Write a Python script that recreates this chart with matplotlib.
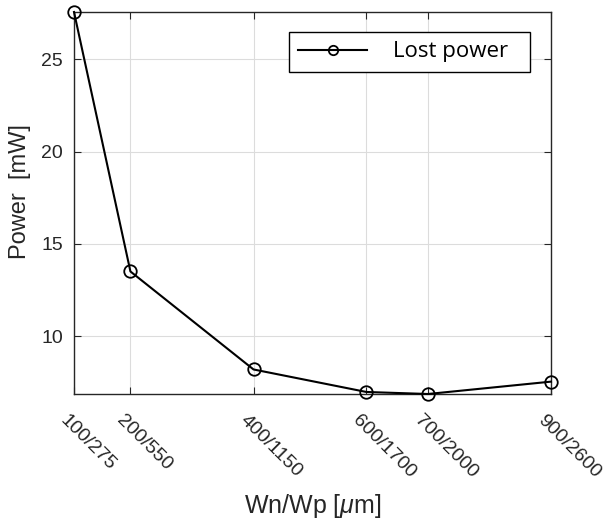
import numpy as np
import matplotlib
matplotlib.use("Agg")
import matplotlib.pyplot as plt
import matplotlib.transforms as mtransforms

plt.rcParams["font.family"] = ["Liberation Sans", "DejaVu Sans"]
plt.rcParams["mathtext.fontset"] = "custom"
plt.rcParams["mathtext.rm"] = "Liberation Sans"
plt.rcParams["mathtext.it"] = "Liberation Sans:italic"

# transistor widths (Wp used as the x coordinate) and measured lost power
wn = [100, 200, 400, 600, 700, 900]
wp = [275, 550, 1150, 1700, 2000, 2600]
lost_power = [27.57, 13.51, 8.2, 6.98, 6.87, 7.54]
tick_labels = ["%d/%d" % (a, b) for a, b in zip(wn, wp)]

fig = plt.figure(figsize=(6.07, 5.23), dpi=100)
ax = fig.add_axes([74 / 607, 1 - 394 / 523, (551 - 74) / 607, (394 - 12) / 523])

ax.plot(wp, lost_power, color="black", linewidth=1.5, marker="o",
        markersize=9, markerfacecolor="none", markeredgewidth=1.3,
        label="Lost power", clip_on=False, zorder=3)

ax.set_xlim(wp[0], wp[-1])
ax.set_ylim(min(lost_power), max(lost_power))
ax.set_xticks(wp)
ax.set_xticklabels([])
# slanted tick labels, written by hand so they can sit left of each tick
shift = mtransforms.ScaledTranslation(-5 / 100, -18 / 100, fig.dpi_scale_trans)
for x, t in zip(wp, tick_labels):
    ax.text(x, 0, t, transform=ax.get_xaxis_transform() + shift,
            rotation=-45, rotation_mode="anchor", ha="left", va="top",
            fontsize=14, color="#262626")

ax.set_yticks([10, 15, 20, 25])
ax.tick_params(axis="y", labelsize=14, labelcolor="#262626", pad=8)
ax.tick_params(direction="in", top=True, right=True, length=5, width=0.8,
               color="#262626")

ax.grid(True, color="#dcdcdc", linewidth=0.8)
for s in ax.spines.values():
    s.set_color("#262626")
    s.set_linewidth(1.0)

ax.set_xlabel(r"Wn/Wp [$\mu$m]", fontsize=18, color="#262626", va="center")
ax.xaxis.set_label_coords(0.5, -(506 - 394) / 382)
ax.set_ylabel("Power  [mW]", fontsize=17, color="#262626", va="center")
ax.yaxis.set_label_coords(-(74 - 20) / 477, (394 - 192) / 382)

leg = ax.legend(loc="upper left", mode="expand",
                bbox_to_anchor=(289 / 607, 1 - 69 / 523, 241 / 607, 37 / 523),
                bbox_transform=fig.transFigure, borderaxespad=0,
                fancybox=False, edgecolor="black", framealpha=1,
                handlelength=3.1, borderpad=0.42, handletextpad=1.15,
                markerscale=0.75, prop={"family": "Open Sans", "size": 16})
leg.get_frame().set_linewidth(1.0)

fig.savefig("out.png", dpi=100)
